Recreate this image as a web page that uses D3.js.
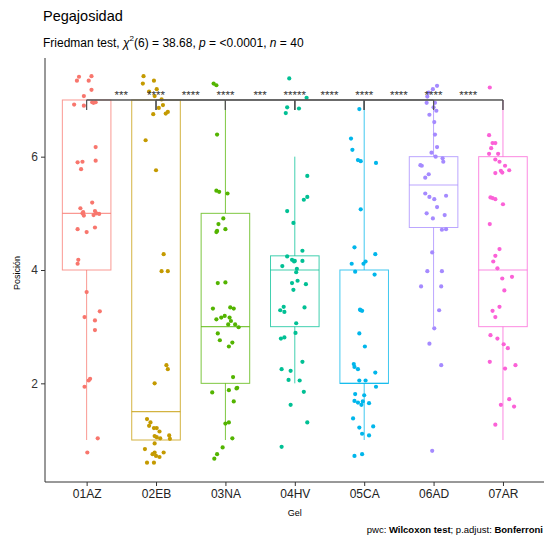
<!DOCTYPE html>
<html>
<head>
<meta charset="utf-8">
<script src="https://cdn.jsdelivr.net/npm/d3@7"></script>
<style>
  html, body { margin: 0; padding: 0; background: #fff; }
  svg { display: block; font-family: "Liberation Sans", Arial, sans-serif; }
</style>
</head>
<body>
<svg id="chart" width="544" height="540"></svg>
<script>
// ---------------- data ----------------
const categories = ["01AZ", "02EB", "03NA", "04HV", "05CA", "06AD", "07AR"];
const colors = ["#F8766D", "#C49A00", "#53B400", "#00C094", "#00B6EB", "#A58AFF", "#FB61D7"];
const q1 = [4, 1, 2, 3, 2, 4.75, 3];
const median = [5, 1.5, 3, 4, 2, 5.5, 4];
const q3 = [7, 7, 5, 4.25, 4, 6, 6];
const whiskerLow = [1, 1, 1, 2, 1, 3, 1];
const whiskerHigh = [7, 7, 7, 6, 7, 7, 7];
const yTicks = [2, 4, 6];

// jittered observations: [value, horizontal jitter (fraction of category step)]
const pts01AZ = [[7.41,-0.11],[7.42,0.07],[7.34,-0.14],[7.34,0.03],[7.18,0.07],[7.07,-0.04],[6.96,0.08],[6.96,0.13],[6.92,-0.18],[6.90,-0.04],
  [6.17,0.13],[5.90,-0.13],[5.91,-0.06],[5.93,0.13],[5.78,-0.08],[5.19,0.08],[5.09,-0.09],[5.00,-0.06],[4.96,-0.04],[5.04,0.12],
  [5.00,0.14],[4.99,0.18],[4.72,-0.13],[4.67,0.0],[4.75,0.12],[4.18,-0.12],[4.11,-0.13],[3.61,0.0],[3.27,0.19],[3.17,-0.03],
  [3.11,0.12],[2.94,0.12],[2.08,0.05],[2.05,0.03],[1.94,-0.03],[1.03,0.16],[0.78,0.01],[5.02,-0.05],[4.97,0.10],[6.95,0.10]];
const pts02EB = [[7.42,-0.18],[7.29,-0.19],[7.34,-0.03],[7.19,0.01],[7.15,-0.10],[7.07,-0.02],[7.01,0.08],[6.91,0.10],[6.86,0.04],[6.79,0.17],
  [6.76,0.14],[6.75,-0.04],[6.29,-0.15],[5.76,0.0],[4.28,0.11],[3.98,0.08],[3.98,0.17],[2.32,0.15],[2.25,0.17],[2.00,-0.02],
  [1.37,-0.13],[1.31,-0.08],[1.21,-0.03],[1.21,0.01],[1.15,0.05],[1.07,-0.02],[1.05,0.01],[1.03,0.06],[1.08,0.19],[1.02,0.20],
  [0.94,-0.02],[0.84,-0.16],[0.78,-0.02],[0.72,0.0],[0.78,0.11],[0.60,-0.13],[0.60,-0.03],[0.75,-0.05],[1.25,-0.10],[0.70,0.05]];
const pts03NA = [[7.29,-0.17],[7.26,-0.13],[6.39,-0.12],[5.40,-0.13],[5.38,-0.09],[5.35,0.03],[4.91,-0.03],[4.81,-0.10],[4.69,-0.12],[4.67,-0.13],
  [4.72,0.0],[3.77,-0.11],[3.78,0.0],[3.32,-0.18],[3.34,0.07],[3.32,0.12],[3.13,-0.13],[3.16,-0.06],[3.19,-0.01],[3.16,0.06],
  [3.04,0.04],[3.04,0.14],[2.99,0.19],[2.88,-0.11],[2.76,-0.08],[2.72,0.10],[2.65,0.05],[2.11,0.11],[1.84,-0.19],[1.88,0.05],
  [1.91,0.16],[1.92,0.17],[1.68,0.12],[1.29,0.0],[1.31,0.05],[1.03,0.10],[0.87,-0.04],[0.75,-0.12],[0.67,-0.16],[3.10,0.08]];
const pts04HV = [[7.38,-0.08],[7.04,0.17],[6.87,-0.11],[6.85,0.06],[6.77,-0.13],[5.66,0.18],[5.29,0.18],[5.24,0.13],[5.04,-0.11],[4.83,-0.02],
  [4.34,0.11],[4.24,-0.11],[4.18,-0.04],[4.16,0.0],[4.16,0.11],[4.07,-0.18],[4.02,0.03],[3.96,0.02],[3.77,-0.04],[3.81,0.04],
  [3.75,0.16],[3.65,-0.02],[3.35,-0.16],[3.29,-0.21],[3.26,-0.15],[3.34,0.14],[3.06,0.02],[2.89,0.01],[2.79,-0.20],[2.81,-0.15],
  [2.38,0.11],[2.25,-0.19],[2.22,-0.06],[2.06,-0.09],[2.05,0.07],[1.85,0.13],[1.62,-0.06],[1.31,0.18],[0.88,-0.19],[4.15,-0.01]];
const pts05CA = [[6.84,-0.07],[6.32,-0.19],[6.12,-0.17],[5.94,-0.09],[5.92,-0.05],[5.89,0.17],[5.07,-0.05],[4.40,-0.14],[4.28,0.16],[4.11,-0.18],
  [4.11,-0.01],[4.15,0.02],[3.97,-0.13],[3.92,0.15],[3.29,-0.05],[3.28,-0.03],[2.88,-0.07],[2.65,0.01],[2.34,-0.15],[2.29,-0.14],
  [2.25,-0.09],[2.19,0.16],[2.05,-0.07],[2.05,0.02],[1.94,0.17],[1.81,-0.13],[1.79,0.0],[1.69,-0.14],[1.66,-0.09],[1.62,-0.04],
  [1.68,-0.02],[1.65,0.07],[1.38,-0.16],[1.22,-0.07],[1.24,0.13],[1.11,-0.03],[1.08,0.07],[0.72,-0.14],[0.75,-0.03],[3.30,-0.06]];
const pts06AD = [[7.25,0.05],[7.19,-0.01],[7.13,-0.07],[7.06,-0.09],[6.95,-0.10],[6.95,0.02],[6.81,0.04],[6.74,-0.06],[6.61,0.01],[6.39,0.02],
  [6.17,0.05],[6.07,-0.03],[6.00,0.03],[5.97,0.13],[5.91,0.14],[5.85,-0.19],[5.84,-0.17],[5.69,-0.07],[5.63,-0.12],[5.35,-0.12],
  [5.29,-0.06],[5.31,0.18],[5.25,0.01],[5.11,0.05],[5.00,-0.10],[4.97,0.16],[4.91,-0.01],[4.71,0.12],[4.72,0.18],[4.31,-0.02],
  [3.98,-0.09],[3.98,0.12],[3.71,-0.18],[3.71,0.11],[3.29,0.08],[2.97,0.01],[2.70,-0.06],[2.32,0.11],[0.81,-0.02],[6.87,0.0]];
const pts07AR = [[7.22,-0.19],[6.38,-0.20],[6.24,-0.15],[6.24,-0.11],[6.15,-0.17],[6.05,-0.20],[6.05,-0.07],[5.95,-0.11],[5.91,-0.05],[5.84,0.03],
  [5.76,0.09],[5.75,-0.03],[5.72,-0.01],[5.71,-0.11],[5.28,-0.18],[5.27,-0.15],[5.25,-0.11],[5.16,0.0],[4.81,-0.19],[4.37,-0.05],
  [4.25,-0.11],[4.15,-0.14],[4.03,-0.08],[3.85,-0.01],[3.88,0.13],[3.64,0.02],[3.35,-0.05],[3.28,-0.15],[3.17,-0.11],[2.85,-0.18],
  [2.79,-0.08],[2.69,0.01],[2.62,0.07],[2.38,-0.19],[2.32,0.18],[2.26,0.03],[1.72,0.09],[1.62,-0.03],[1.59,0.16],[1.27,-0.11]];
const points = [pts01AZ, pts02EB, pts03NA, pts04HV, pts05CA, pts06AD, pts07AR];

// pairwise comparisons (Wilcoxon, Bonferroni)
const compGroup1 = ["01AZ", "02EB", "03NA", "04HV", "05CA", "06AD", "01AZ", "02EB", "03NA", "04HV", "05CA"];
const compGroup2 = ["02EB", "03NA", "04HV", "05CA", "06AD", "07AR", "03NA", "04HV", "05CA", "06AD", "07AR"];
const compLabel  = ["***", "****", "***", "****", "****", "****", "****", "****", "*****", "****", "****"];
const bracketY = 7;

const titleText = "Pegajosidad";
const xTitle = "Gel";
const yTitle = "Posición";

// ---------------- layout ----------------
const svg = d3.select("#chart");
const panel = { left: 45, right: 544.6, top: 58, bottom: 482 };
const step = (panel.right - panel.left) / 7.2;

const x = d3.scalePoint()
  .domain(categories)
  .range([panel.left + 0.6 * step, panel.right - 0.6 * step]);
const y = d3.scaleLinear().domain([0.259, 7.741]).range([panel.bottom, panel.top]);
const boxW = 0.7 * x.step();

// title & subtitle
svg.append("text").attr("x", 43).attr("y", 21)
  .attr("font-size", 14.5).attr("fill", "#000").text(titleText);
const sub = svg.append("text").attr("x", 43).attr("y", 47)
  .attr("font-size", 12).attr("fill", "#000");
sub.append("tspan").text("Friedman test, ");
sub.append("tspan").attr("font-style", "italic").text("χ");
sub.append("tspan").attr("font-size", 8).attr("dy", -6).text("2");
sub.append("tspan").attr("dy", 6).text("(6) = 38.68, ");
sub.append("tspan").attr("font-style", "italic").text("p");
sub.append("tspan").text(" = <0.0001, ");
sub.append("tspan").attr("font-style", "italic").text("n");
sub.append("tspan").text(" = 40");

// boxes
const g = svg.append("g");
categories.forEach((c, i) => {
  const cx = x(c);
  const col = colors[i];
  const bx = g.append("g").attr("stroke", col).attr("stroke-opacity", 0.75).attr("fill", "none");
  bx.append("line").attr("x1", cx).attr("x2", cx)
    .attr("y1", y(q3[i])).attr("y2", y(whiskerHigh[i])).attr("stroke-width", 1);
  bx.append("line").attr("x1", cx).attr("x2", cx)
    .attr("y1", y(q1[i])).attr("y2", y(whiskerLow[i])).attr("stroke-width", 1);
  bx.append("rect").attr("x", cx - boxW / 2).attr("width", boxW)
    .attr("y", y(q3[i])).attr("height", y(q1[i]) - y(q3[i])).attr("stroke-width", 1);
  bx.append("line").attr("x1", cx - boxW / 2).attr("x2", cx + boxW / 2)
    .attr("y1", y(median[i])).attr("y2", y(median[i])).attr("stroke-width", 1.1);
});

// brackets
const bg = svg.append("g");
const by = y(bracketY);
compGroup1.forEach((g1, k) => {
  const x1 = x(g1), x2 = x(compGroup2[k]);
  bg.append("path")
    .attr("d", `M${x1},${by + 10}V${by}H${x2}V${by + 10}`)
    .attr("fill", "none").attr("stroke", "#555").attr("stroke-width", 1);
  bg.append("text").attr("x", (x1 + x2) / 2).attr("y", by - 0.5)
    .attr("text-anchor", "middle").attr("font-size", 11.5)
    .attr("fill", "#333").text(compLabel[k]);
});

// points
categories.forEach((c, i) => {
  g.append("g").selectAll("circle").data(points[i]).join("circle")
    .attr("cx", d => x(c) + d[1] * x.step())
    .attr("cy", d => y(d[0]))
    .attr("r", 2.1)
    .attr("fill", colors[i]);
});

// axes
const yAxis = svg.append("g").attr("transform", `translate(${panel.left},0)`)
  .call(d3.axisLeft(y).tickValues(yTicks).tickSize(4).tickPadding(3).tickSizeOuter(0));
yAxis.select(".domain").attr("d", `M0,${panel.top}V${panel.bottom}`).attr("stroke", "#333");
yAxis.selectAll(".tick line").attr("stroke", "#333");
yAxis.selectAll(".tick text").attr("font-size", 12).attr("fill", "#333")
  .attr("font-family", "Liberation Sans, Arial, sans-serif");

const xAxis = svg.append("g").attr("transform", `translate(0,${panel.bottom})`)
  .call(d3.axisBottom(x).tickSize(4).tickPadding(3).tickSizeOuter(0));
xAxis.select(".domain").attr("d", `M${panel.left},0H${panel.right}`).attr("stroke", "#333");
xAxis.selectAll(".tick line").attr("stroke", "#333");
xAxis.selectAll(".tick text").attr("font-size", 12).attr("fill", "#222")
  .attr("font-family", "Liberation Sans, Arial, sans-serif");

// axis titles
svg.append("text").attr("x", x("04HV")).attr("y", 516)
  .attr("text-anchor", "middle").attr("font-size", 9).attr("fill", "#000").text(xTitle);
svg.append("text").attr("transform", `translate(19.5,273) rotate(-90)`)
  .attr("text-anchor", "middle").attr("font-size", 9).attr("fill", "#000").text(yTitle);

// caption
const cap = svg.append("text").attr("x", 543).attr("y", 533)
  .attr("text-anchor", "end").attr("font-size", 9.5).attr("fill", "#000");
cap.append("tspan").text("pwc: ");
cap.append("tspan").attr("font-weight", "bold").text("Wilcoxon test");
cap.append("tspan").text("; p.adjust: ");
cap.append("tspan").attr("font-weight", "bold").text("Bonferroni");
</script>
</body>
</html>
